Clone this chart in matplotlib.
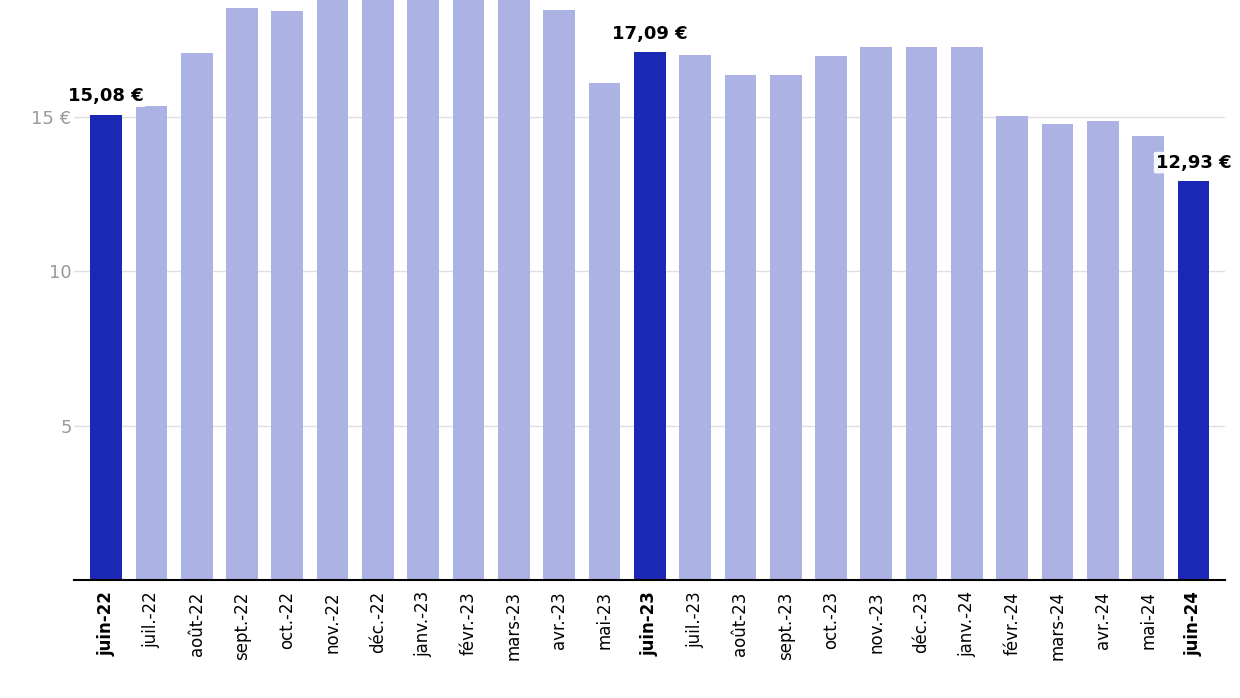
import matplotlib.pyplot as plt

months = ["juin-22", "juil.-22", "août-22", "sept.-22", "oct.-22", "nov.-22", "déc.-22",
          "janv.-23", "févr.-23", "mars-23", "avr.-23", "mai-23", "juin-23", "juil.-23",
          "août-23", "sept.-23", "oct.-23", "nov.-23", "déc.-23", "janv.-24", "févr.-24",
          "mars-24", "avr.-24", "mai-24", "juin-24"]
prices = [15.08, 15.35, 17.07, 18.53, 18.43, 19.2, 19.3, 19.4, 19.3, 19.0, 18.46, 16.1,
          17.09, 17.0, 16.36, 16.36, 16.97, 17.27, 17.27, 17.27, 15.03, 14.77, 14.87,
          14.38, 12.93]
highlight = {"juin-22": "15,08 €", "juin-23": "17,09 €", "juin-24": "12,93 €"}

fig = plt.figure(figsize=(12.4, 6.98), dpi=100)
ax = fig.add_axes([0.06, 0.169, 0.928, 0.831])
x = range(len(months))
colors = ["#1b27b5" if m in highlight else "#adb2e4" for m in months]
ax.bar(x, prices, width=0.7, color=colors, zorder=2)

for i, m in enumerate(months):
    if m in highlight:
        ax.text(i, prices[i] + 0.3, highlight[m], ha="center", va="bottom",
                fontsize=13, fontweight="bold", color="black", zorder=3,
                bbox=dict(boxstyle="round,pad=0.1", fc="white", ec="none", alpha=0.9))

ax.set_ylim(0, 18.79)
ax.set_xlim(-0.7, len(months) - 0.3)
ax.set_yticks([5, 10, 15])
ax.set_yticklabels(["5", "10", "15 €"], color="#999999", fontsize=13)
ax.yaxis.grid(True, color="#e0e0e0", linewidth=1, zorder=0)
ax.tick_params(axis="y", length=0, pad=2)
ax.set_xticks(list(x))
ax.set_xticklabels(months, rotation=90, fontsize=12)
for lbl, m in zip(ax.get_xticklabels(), months):
    if m in highlight:
        lbl.set_fontweight("bold")
ax.tick_params(axis="x", length=0, pad=8)
for s in ["left", "right", "top"]:
    ax.spines[s].set_visible(False)
ax.spines["bottom"].set_linewidth(1.5)
fig.savefig("out.png", dpi=100)
